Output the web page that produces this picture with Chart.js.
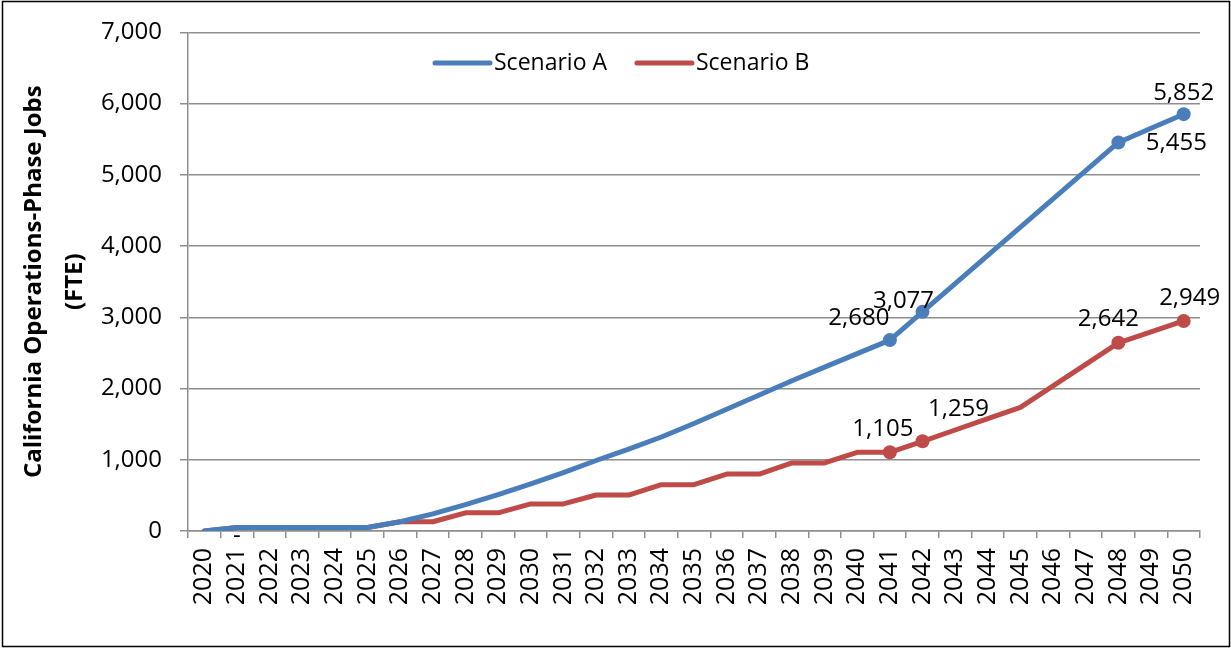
<!DOCTYPE html>
<html>
<head>
<meta charset="utf-8">
<script src="https://cdn.jsdelivr.net/npm/chart.js@4.4.1/dist/chart.umd.min.js"></script>
<style>
  html, body { margin: 0; padding: 0; background: #fff; }
  canvas { display: block; }
</style>
</head>
<body>
<canvas id="jobsChart" width="1231" height="648"></canvas>
<script>
// years on the x axis
var years = [2020, 2021, 2022, 2023, 2024, 2025, 2026, 2027, 2028, 2029,
             2030, 2031, 2032, 2033, 2034, 2035, 2036, 2037, 2038, 2039,
             2040, 2041, 2042, 2043, 2044, 2045, 2046, 2047, 2048, 2049, 2050];

// Scenario A - jobs (FTE)
var scenarioA = [0, 50, 50, 50, 50, 50, 130, 240, 370, 510,
                 660, 820, 990, 1150, 1320, 1510, 1710, 1910, 2110, 2300,
                 2490, 2680, 3077, 3473, 3870, 4266, 4663, 5059, 5455, 5654, 5852];

// Scenario B - jobs (FTE)
var scenarioB = [0, 50, 50, 50, 50, 50, 130, 130, 255, 255,
                 380, 380, 505, 505, 650, 650, 800, 800, 955, 955,
                 1105, 1105, 1259, 1418, 1577, 1736, 2038, 2340, 2642, 2795, 2949];

// years that get a marker + value label
var markerYears = [2041, 2042, 2048, 2050];

// y axis ticks
var yTicks = [0, 1000, 2000, 3000, 4000, 5000, 6000, 7000];

var seriesNames = ['Scenario A', 'Scenario B'];
var seriesColors = ['#4A7EBB', '#BE4B48'];

// where each value label sits relative to its point (dx, dy)
var labelOffsets = [
    [[-31, -22], [-19, -11], [58, 1], [0, -21]],
    [[-7, -23], [36, -32], [-10, -24], [6, -23]]
];

var FONT = "'Open Sans', sans-serif";
Chart.defaults.font.family = FONT;
Chart.defaults.color = '#000';

function pointRadius(ctx) {
    return markerYears.indexOf(years[ctx.dataIndex]) >= 0 ? 7 : 0;
}

// background and outer frame
var framePlugin = {
    id: 'frame',
    beforeDraw: function (chart) {
        var ctx = chart.ctx;
        ctx.save();
        ctx.fillStyle = '#fff';
        ctx.fillRect(0, 0, chart.width, chart.height);
        ctx.strokeStyle = '#000';
        ctx.lineWidth = 1.5;
        ctx.strokeRect(2.5, 1.5, chart.width - 4, chart.height - 3);
        ctx.restore();
    }
};

// value labels next to the marked points
var valueLabels = {
    id: 'valueLabels',
    afterDatasetsDraw: function (chart) {
        var ctx = chart.ctx;
        ctx.save();
        ctx.font = '24px ' + FONT;
        ctx.fillStyle = '#000';
        ctx.textAlign = 'center';
        ctx.textBaseline = 'middle';
        chart.data.datasets.forEach(function (ds, di) {
            var meta = chart.getDatasetMeta(di);
            markerYears.forEach(function (yr, k) {
                var i = years.indexOf(yr);
                var p = meta.data[i];
                var off = labelOffsets[di][k];
                ctx.fillText(ds.data[i].toLocaleString('en-US'), p.x + off[0], p.y + off[1]);
            });
        });
        // zero-style dash label under 2021
        var pA = chart.getDatasetMeta(0).data[years.indexOf(2021)];
        ctx.fillText('-', pA.x, chart.scales.y.getPixelForValue(0) + 5);
        ctx.restore();
    }
};

// legend inside the plot, like the original
var insideLegend = {
    id: 'insideLegend',
    afterDraw: function (chart) {
        var ctx = chart.ctx;
        var x = 435, y = 63;
        ctx.save();
        ctx.font = '23px ' + FONT;
        ctx.textBaseline = 'middle';
        ctx.textAlign = 'left';
        chart.data.datasets.forEach(function (ds) {
            ctx.strokeStyle = ds.borderColor;
            ctx.lineWidth = 5;
            ctx.lineCap = 'round';
            ctx.beginPath();
            ctx.moveTo(x, y);
            ctx.lineTo(x + 55, y);
            ctx.stroke();
            ctx.fillStyle = '#000';
            ctx.fillText(ds.label, x + 59, y);
            x += 59 + ctx.measureText(ds.label).width + 30;
        });
        ctx.restore();
    }
};

var canvas = document.getElementById('jobsChart');

var chartData = {
    labels: years,
    datasets: [
        {
            label: seriesNames[0],
            data: scenarioA,
            borderColor: seriesColors[0],
            backgroundColor: seriesColors[0],
            borderWidth: 5,
            pointRadius: pointRadius,
            pointHoverRadius: pointRadius,
            pointBorderWidth: 0,
            tension: 0,
            borderJoinStyle: 'round',
            borderCapStyle: 'round'
        },
        {
            label: seriesNames[1],
            data: scenarioB,
            borderColor: seriesColors[1],
            backgroundColor: seriesColors[1],
            borderWidth: 5,
            pointRadius: pointRadius,
            pointHoverRadius: pointRadius,
            pointBorderWidth: 0,
            tension: 0,
            borderJoinStyle: 'round',
            borderCapStyle: 'round'
        }
    ]
};

var jobsChart = new Chart(canvas, {
    type: 'line',
    data: chartData,
    options: {
        responsive: false,
        devicePixelRatio: 1,
        animation: false,
        layout: { padding: { left: 6, top: 31, right: 31, bottom: 10 } },
        plugins: {
            legend: { display: false },
            tooltip: { enabled: false }
        },
        scales: {
            x: {
                type: 'category',
                offset: true,
                grid: {
                    offset: true,
                    drawOnChartArea: false,
                    drawTicks: true,
                    tickLength: 7,
                    color: '#8e8e8e',
                    lineWidth: 1.5
                },
                border: { display: true, color: '#8e8e8e', width: 1.5 },
                ticks: {
                    autoSkip: false,
                    minRotation: 90,
                    maxRotation: 90,
                    padding: 10,
                    font: { size: 25 }
                },
                afterFit: function (scale) { scale.height = 107; }
            },
            y: {
                min: 0,
                max: 7000,
                afterBuildTicks: function (scale) {
                    scale.ticks = yTicks.map(function (v) { return { value: v }; });
                },
                grid: {
                    color: '#8e8e8e',
                    lineWidth: 1.5,
                    tickLength: 8
                },
                border: { display: true, color: '#8e8e8e', width: 1.5 },
                ticks: {
                    padding: 18,
                    font: { size: 24 },
                    callback: function (v) { return Number(v).toLocaleString('en-US'); }
                },
                title: {
                    display: true,
                    text: ['California Operations-Phase Jobs', '(FTE)'],
                    font: { size: 24, weight: 'bold', lineHeight: 1.7 },
                    padding: { top: 8, bottom: 0 }
                },
                afterFit: function (scale) { scale.width = 182; }
            }
        }
    },
    plugins: [framePlugin, valueLabels, insideLegend]
});
</script>
</body>
</html>
